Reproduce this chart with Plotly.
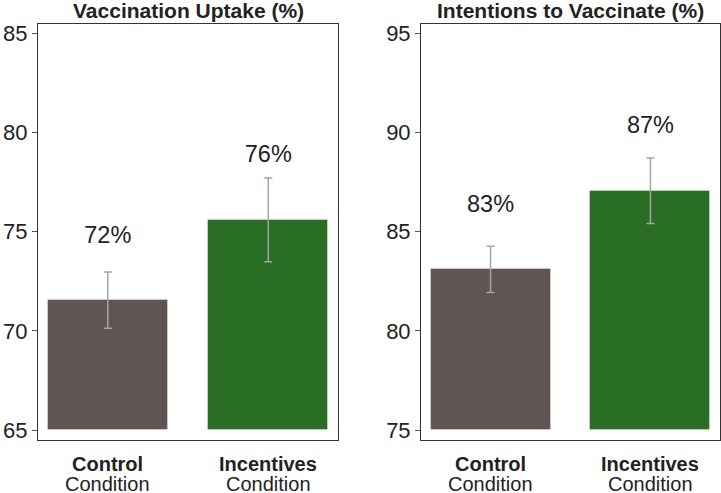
import plotly.graph_objects as go
from plotly.subplots import make_subplots

categories = ["Control", "Incentives"]
sublabel = "Condition"
uptake_values = [71.55, 75.6]
uptake_err = [1.42, 2.11]
uptake_labels = ["72%", "76%"]
intent_values = [83.1, 87.06]
intent_err = [1.17, 1.65]
intent_labels = ["83%", "87%"]
panel_titles = ["Vaccination Uptake (%)", "Intentions to Vaccinate (%)"]
uptake_ticks = [65, 70, 75, 80, 85]
intent_ticks = [75, 80, 85, 90, 95]

bar_colors = ["#5f5552", "#2a6e25"]
label_offset = 3.2
FONT = "Liberation Sans, Arial, sans-serif"
TXT = "#222222"

fig = make_subplots(rows=1, cols=2)

panels = [
    (uptake_values, uptake_err, uptake_labels, 65, [64.5, 85.47], uptake_ticks),
    (intent_values, intent_err, intent_labels, 75, [74.5, 95.47], intent_ticks),
]

for i, (vals, errs, labs, base, rng, ticks) in enumerate(panels, start=1):
    fig.add_trace(go.Bar(
        x=categories, y=[v - base for v in vals], base=base,
        marker=dict(color=bar_colors, line=dict(width=1, color="rgba(255,255,255,0.35)")),
        width=0.75,
        error_y=dict(type="data", array=errs, color="#a8a4a2", thickness=1.5, width=4),
        showlegend=False, hoverinfo="skip",
    ), row=1, col=i)
    fig.add_trace(go.Scatter(
        x=categories, y=[v + label_offset for v in vals], mode="text",
        text=labs, textposition="middle center",
        textfont=dict(size=23.5, color=TXT, family=FONT),
        showlegend=False, hoverinfo="skip",
    ), row=1, col=i)
    fig.update_yaxes(range=rng, tickvals=ticks, ticks="outside", ticklen=5,
                     tickcolor="#555555", tickwidth=1, showgrid=False, zeroline=False,
                     showline=True, mirror=True, linecolor="#333333", linewidth=1,
                     tickfont=dict(size=22, color=TXT, family=FONT),
                     row=1, col=i)
    fig.update_xaxes(range=[-0.435, 1.435], showgrid=False, zeroline=False,
                     showline=True, mirror=True, linecolor="#333333", linewidth=1,
                     ticks="", showticklabels=False,
                     row=1, col=i)
    xref = "x" if i == 1 else "x2"
    for c in categories:
        fig.add_annotation(x=c, xref=xref, y=0, yref="paper", text="<b>%s</b>" % c,
                           showarrow=False, xanchor="center", yanchor="top", yshift=-11,
                           font=dict(size=20, color=TXT, family=FONT))
        fig.add_annotation(x=c, xref=xref, y=0, yref="paper", text=sublabel,
                           showarrow=False, xanchor="center", yanchor="top", yshift=-31,
                           font=dict(size=20, color=TXT, family=FONT))

dom1 = [0, 0.44]
dom2 = [0.5616, 1.0]
fig.update_layout(
    width=721, height=493,
    margin=dict(l=38, r=1, t=24, b=53),
    plot_bgcolor="white", paper_bgcolor="white",
    font=dict(family=FONT, color=TXT),
    bargap=0,
    xaxis=dict(domain=dom1),
    xaxis2=dict(domain=dom2),
)

for dom, title in zip([dom1, dom2], panel_titles):
    fig.add_annotation(x=(dom[0] + dom[1]) / 2, y=1, xref="paper", yref="paper",
                       text="<b>%s</b>" % title, showarrow=False,
                       xanchor="center", yanchor="middle", yshift=14,
                       font=dict(size=21, color=TXT, family=FONT))

fig.write_html("out.html", config={"displayModeBar": False},
               post_script="document.body.style.margin='0';")
